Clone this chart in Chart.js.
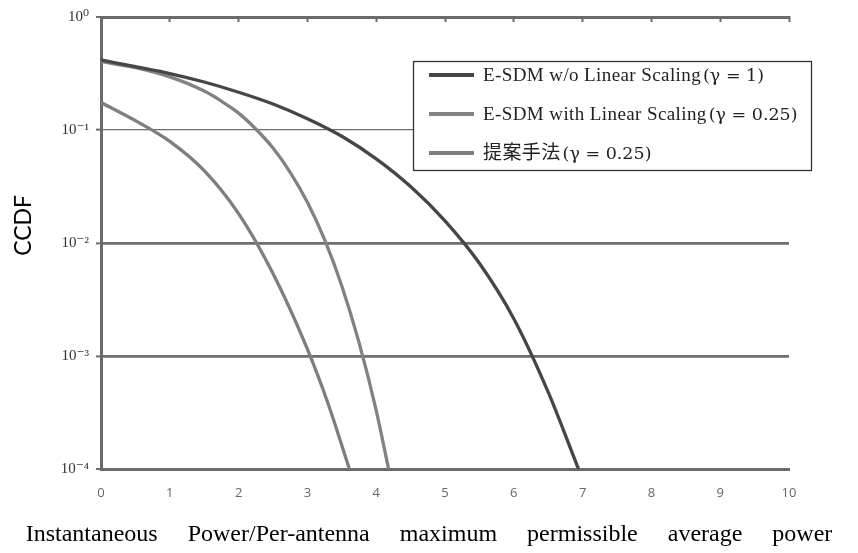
<!DOCTYPE html>
<html>
<head>
<meta charset="utf-8">
<script src="https://cdn.jsdelivr.net/npm/chart.js@4.4.1/dist/chart.umd.min.js"></script>
<style>
  html, body { margin: 0; padding: 0; background: #fff; }
  #wrap { width: 858px; height: 553px; }
</style>
</head>
<body>
<div id="wrap"><canvas id="myChart" width="858" height="553"></canvas></div>
<script>
const ctx = document.getElementById('myChart').getContext('2d');

// valores
const labels = ['E-SDM w/o Linear Scaling(γ = 1)', 'E-SDM with Linear Scaling(γ = 0.25)', '提案手法(γ = 0.25)'];

const xSinEscala = [0, 0.5, 1, 1.5, 2, 2.5, 3, 3.5, 4, 4.5, 5, 5.5, 6, 6.5, 6.94];
const ySinEscala = [0.417, 0.363, 0.316, 0.266, 0.216, 0.170, 0.126, 0.0881, 0.0556, 0.0316, 0.0157, 0.00661, 0.00214, 0.000479, 0.0001];

const xConEscala = [0, 0.5, 1, 1.5, 1.75, 2, 2.25, 2.5, 2.75, 3, 3.25, 3.5, 3.75, 4, 4.18];
const yConEscala = [0.403, 0.356, 0.295, 0.221, 0.180, 0.141, 0.102, 0.0692, 0.0422, 0.0229, 0.0107, 0.00417, 0.00132, 0.000331, 0.0001];

const xPropuesto = [0, 0.5, 1, 1.5, 2, 2.5, 3, 3.3, 3.61];
const yPropuesto = [0.175, 0.121, 0.0794, 0.0437, 0.0182, 0.00537, 0.00115, 0.000380, 0.0001];

const yTicks = [0.0001, 0.001, 0.01, 0.1, 1];
const yTickLabels = ['10⁻⁴', '10⁻³', '10⁻²', '10⁻¹', '10⁰'];

const xTitle = 'Instantaneous     Power/Per-antenna     maximum     permissible     average     power';

function puntos(xs, ys) {
    return xs.map((x, i) => ({ x: x, y: ys[i] }));
}

// leyenda con recuadro
const cajaLeyenda = {
    id: 'cajaLeyenda',
    afterDatasetsDraw(chart) {
        const c = chart.ctx;
        c.save();
        c.fillStyle = '#fff';
        c.fillRect(413, 61, 399, 110);
        c.strokeStyle = '#333';
        c.lineWidth = 1.3;
        c.strokeRect(413.5, 61.5, 398, 109);
        chart.data.datasets.forEach((ds, i) => {
            const y = 75 + i * 39;
            c.strokeStyle = ds.borderColor;
            c.lineWidth = 4;
            c.beginPath();
            c.moveTo(429, y);
            c.lineTo(474, y);
            c.stroke();
            const corte = ds.label.indexOf('(');
            const nombre = ds.label.slice(0, corte);
            const gamma = ds.label.slice(corte);
            c.fillStyle = '#222';
            c.textBaseline = 'middle';
            c.font = '19px "Liberation Serif", "Noto Sans CJK JP", serif';
            c.letterSpacing = '0.4px';
            c.fillText(nombre, 483, y + 1);
            const ancho = c.measureText(nombre).width;
            c.letterSpacing = '0px';
            c.font = '17.5px "DejaVu Serif", serif';
            c.fillText(gamma, 483 + ancho + 2, y + 1);
        });
        c.restore();
    }
};

const myChart = new Chart(ctx, {
    type: 'line',
    data: {
        datasets: [{
            label: labels[0],
            data: puntos(xSinEscala, ySinEscala),
            borderColor: '#464646',
            borderWidth: 3.3
        }, {
            label: labels[1],
            data: puntos(xConEscala, yConEscala),
            borderColor: '#828282',
            borderWidth: 3.3
        }, {
            label: labels[2],
            data: puntos(xPropuesto, yPropuesto),
            borderColor: '#7e7e7e',
            borderWidth: 3.3
        }]
    },
    options: {
        responsive: false,
        animation: false,
        devicePixelRatio: 1,
        elements: {
            point: { radius: 0 },
            line: { cubicInterpolationMode: 'monotone', fill: false }
        },
        layout: { padding: 0 },
        plugins: {
            legend: { display: false },
            tooltip: { enabled: false },
            title: {
                display: true,
                position: 'bottom',
                text: xTitle,
                color: '#000',
                font: { family: '"Liberation Serif", "Times New Roman", serif', size: 24, weight: 'normal' },
                padding: { top: 0, bottom: 4 }
            }
        },
        scales: {
            x: {
                type: 'linear',
                position: 'bottom',
                min: 0,
                max: 10,
                ticks: {
                    stepSize: 1,
                    color: '#666',
                    padding: 16,
                    font: { family: '"Open Sans", sans-serif', size: 13 }
                },
                grid: { drawOnChartArea: false, drawTicks: false },
                border: { display: true, color: '#6a6a6a', width: 3 },
                afterFit(scale) { scale.height = 51.2; }
            },
            xTop: {
                type: 'linear',
                position: 'top',
                min: 0,
                max: 10,
                ticks: { display: false, stepSize: 1 },
                grid: { drawOnChartArea: false, drawTicks: true, tickLength: -5, tickWidth: 2, color: '#6a6a6a' },
                border: { display: true, color: '#6a6a6a', width: 3 },
                afterFit(scale) { scale.height = 17; }
            },
            y: {
                type: 'logarithmic',
                min: 0.0001,
                max: 1,
                afterBuildTicks(scale) {
                    scale.ticks = yTicks.map(v => ({ value: v }));
                },
                ticks: {
                    color: '#333',
                    padding: 7,
                    font: { family: '"Liberation Serif", "DejaVu Serif", serif', size: 15 },
                    callback: (value) => yTickLabels[yTicks.indexOf(value)]
                },
                grid: {
                    color: '#6e6e6e',
                    lineWidth: (c) => {
                        if (!c.tick) return 0;
                        if (c.tick.value === 0.1) return 1.3;
                        if (c.tick.value === 1 || c.tick.value === 0.0001) return 0;
                        return 2.8;
                    },
                    tickWidth: 2,
                    tickLength: 5
                },
                border: { display: true, color: '#6a6a6a', width: 3 },
                title: {
                    display: true,
                    text: '      CCDF',
                    color: '#000',
                    font: { family: 'Lato, "Open Sans", sans-serif', size: 23, lineHeight: 1 },
                    padding: { top: 12, bottom: 0 }
                },
                afterFit(scale) { scale.width = 101; }
            },
            yRight: {
                type: 'linear',
                position: 'right',
                display: true,
                ticks: { display: false },
                grid: { display: false },
                border: { display: false },
                afterFit(scale) { scale.width = 69; }
            }
        }
    },
    plugins: [cajaLeyenda]
});
</script>
</body>
</html>
